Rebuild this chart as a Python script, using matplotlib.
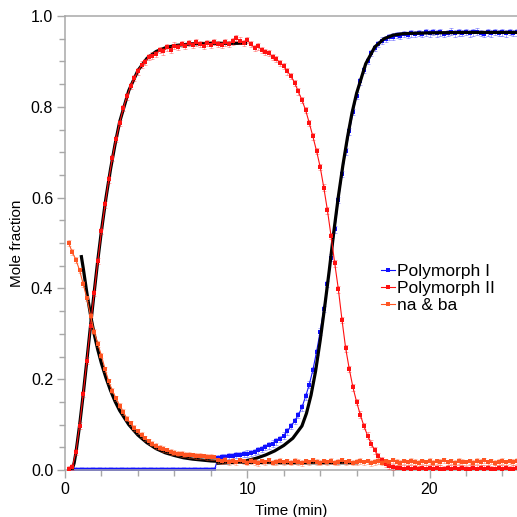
import numpy as np
import matplotlib
matplotlib.use("Agg")
import matplotlib.pyplot as plt

# sampling clock of the measurement (min)
time = np.round(np.arange(1, 125) * 0.2, 1)

poly2 = [0.002, 0.006, 0.040, 0.098, 0.168, 0.241, 0.318, 0.390, 0.461, 0.526,
         0.585, 0.640, 0.688, 0.729, 0.765, 0.797, 0.823, 0.846, 0.864, 0.878,
         0.893, 0.899, 0.910, 0.913, 0.917, 0.925, 0.922, 0.931, 0.926, 0.935,
         0.932, 0.938, 0.934, 0.940, 0.936, 0.942, 0.938, 0.935, 0.941, 0.937,
         0.943, 0.939, 0.936, 0.942, 0.938, 0.944, 0.951, 0.946, 0.941, 0.947,
         0.938, 0.930, 0.933, 0.925, 0.921, 0.918, 0.910, 0.905, 0.897, 0.890,
         0.878, 0.868, 0.853, 0.834, 0.815, 0.793, 0.765, 0.735, 0.703, 0.668,
         0.622, 0.572, 0.515, 0.455, 0.398, 0.330, 0.268, 0.222, 0.182, 0.150,
         0.122, 0.097, 0.076, 0.058, 0.043, 0.031, 0.021, 0.014, 0.009, 0.007,
         0.005, 0.004, 0.003, 0.005, 0.003, 0.004, 0.002, 0.004, 0.003, 0.005,
         0.003, 0.004, 0.003, 0.002, 0.004, 0.003, 0.005, 0.003, 0.004, 0.002,
         0.003, 0.004, 0.003, 0.005, 0.003, 0.004, 0.002, 0.003, 0.004, 0.003,
         0.004, 0.002, 0.003, 0.004]

poly1 = [np.nan, 0, 0, 0, 0, 0, 0, 0, 0, 0,
         0, 0, 0, 0, 0, 0, 0, 0, 0, 0,
         0, 0, 0, 0, 0, 0, 0, 0, 0, 0,
         0, 0, 0, 0, 0, 0, 0, 0, 0, 0,
         0, 0.027, 0.029, 0.028, 0.031, 0.030, 0.033, 0.032, 0.035, 0.036,
         0.038, 0.040, 0.043, 0.046, 0.050, 0.054, 0.058, 0.063, 0.069, 0.076,
         0.085, 0.097, 0.108, 0.121, 0.138, 0.162, 0.188, 0.220, 0.260, 0.305,
         0.355, 0.410, 0.468, 0.530, 0.595, 0.652, 0.702, 0.746, 0.788, 0.825,
         0.856, 0.881, 0.901, 0.918, 0.930, 0.939, 0.946, 0.950, 0.954, 0.955,
         0.958, 0.957, 0.961, 0.959, 0.962, 0.960, 0.963, 0.961, 0.964, 0.962,
         0.965, 0.962, 0.964, 0.961, 0.963, 0.966, 0.962, 0.964, 0.963, 0.965,
         0.962, 0.964, 0.966, 0.963, 0.961, 0.964, 0.962, 0.965, 0.963, 0.964,
         0.962, 0.965, 0.963, 0.964]

naba = [0.500, 0.480, 0.463, 0.440, 0.410, 0.378, 0.340, 0.305, 0.278, 0.252,
        0.222, 0.195, 0.175, 0.158, 0.142, 0.128, 0.113, 0.103, 0.093, 0.085,
        0.077, 0.070, 0.063, 0.058, 0.053, 0.049, 0.046, 0.043, 0.040, 0.038,
        0.036, 0.035, 0.034, 0.033, 0.032, 0.031, 0.031, 0.030, 0.029, 0.029,
        0.028, 0.021, 0.019, 0.022, 0.018, 0.020, 0.017, 0.021, 0.019, 0.016,
        0.020, 0.018, 0.015, 0.019, 0.017, 0.021, 0.016, 0.018, 0.020, 0.017,
        0.019, 0.016, 0.020, 0.018, 0.015, 0.019, 0.017, 0.021, 0.018, 0.016,
        0.019, 0.017, 0.020, 0.016, 0.018, 0.021, 0.017, 0.019, 0.016, 0.018,
        0.020, 0.017, 0.019, 0.015, 0.018, 0.020, 0.016, 0.019, 0.017, 0.021,
        0.018, 0.016, 0.019, 0.017, 0.020, 0.018, 0.015, 0.019, 0.017, 0.020,
        0.016, 0.019, 0.018, 0.021, 0.017, 0.019, 0.016, 0.020, 0.018, 0.017,
        0.019, 0.016, 0.020, 0.018, 0.021, 0.017, 0.019, 0.016, 0.018, 0.020,
        0.017, 0.019, 0.018, 0.020]

# fitted curves (black)
fit2_t = [0.38, 0.5, 0.6, 0.8, 1.0, 1.2, 1.4, 1.6, 1.8, 2.0, 2.25, 2.5, 2.75,
          3.0, 3.5, 4.0, 4.5, 5.0, 5.5, 6.0, 7.0, 8.0, 9.9]
fit2_y = [0.0, 0.015, 0.038, 0.098, 0.167, 0.241, 0.317, 0.391, 0.462, 0.527,
          0.600, 0.663, 0.718, 0.767, 0.836, 0.880, 0.907, 0.922, 0.930, 0.935,
          0.939, 0.940, 0.940]

fit1_t = [8.4, 9.0, 9.5, 10.0, 10.5, 11.0, 11.5, 12.0, 12.5, 13.0, 13.25, 13.5,
          13.75, 14.0, 14.25, 14.5, 14.75, 15.0, 15.25, 15.5, 15.75, 16.0, 16.5,
          17.0, 17.5, 18.0, 18.5, 19.0, 20.0, 22.0, 24.8]
fit1_y = [0.015, 0.016, 0.018, 0.021, 0.026, 0.033, 0.042, 0.054, 0.070, 0.097,
          0.125, 0.165, 0.218, 0.285, 0.360, 0.440, 0.525, 0.603, 0.672, 0.733,
          0.787, 0.830, 0.895, 0.932, 0.950, 0.958, 0.961, 0.962, 0.963, 0.964,
          0.964]

fitn_t = [0.9, 1.0, 1.2, 1.43, 1.6, 1.8, 2.0, 2.25, 2.5, 2.75, 3.0, 3.5, 4.0,
          4.5, 5.0, 5.5, 6.0, 6.5, 7.0, 8.0, 9.0, 10.0, 12.0, 14.0, 16.0]
fitn_y = [0.470, 0.445, 0.390, 0.335, 0.300, 0.265, 0.235, 0.203, 0.175, 0.151,
          0.131, 0.100, 0.077, 0.060, 0.047, 0.038, 0.032, 0.027, 0.024, 0.020,
          0.018, 0.017, 0.016, 0.016, 0.016]

c_blue = "#1010ff"
c_red = "#ff1010"
c_orange = "#ff5522"

plt.rcParams["font.family"] = ["Liberation Sans", "DejaVu Sans"]

fig = plt.figure(figsize=(5.17, 5.17), dpi=100)
ax = fig.add_axes([0.1257, 0.0909, 0.8743, 0.878])


def draw(y, color, label, z, err):
    ax.errorbar(time, y, yerr=err, fmt="none", ecolor=color, elinewidth=0.6,
                capsize=1.3, capthick=0.6, alpha=0.4, zorder=z)
    ax.plot(time, y, "-s", color=color, lw=0.8, ms=2.4, mew=0, label=label,
            zorder=z)


draw(poly1, c_blue, "Polymorph I", 2, 0.007)
ax.plot(fit1_t, fit1_y, color="black", lw=2.3, zorder=3)
ax.plot(fit2_t, fit2_y, color="black", lw=2.3, zorder=3)
ax.plot(fitn_t, fitn_y, color="black", lw=2.3, zorder=3)
draw(poly2, c_red, "Polymorph II", 4, 0.007)
draw(naba, c_orange, "na & ba", 4, 0.006)

ax.set_xlim(0, 24.8)
ax.set_ylim(0, 1.0)
ax.set_xticks([0, 10, 20])
ax.set_xticks(np.arange(0, 25, 2), minor=True)
ax.set_yticks([0, 0.2, 0.4, 0.6, 0.8, 1.0])
ax.set_yticks(np.arange(0, 1.01, 0.05), minor=True)
ax.yaxis.set_major_formatter(plt.FormatStrFormatter("%.1f"))

for s in ["left", "top", "bottom"]:
    ax.spines[s].set_color("#a8a8a8")
    ax.spines[s].set_linewidth(1.1)
ax.spines["right"].set_visible(False)
ax.tick_params(which="major", length=6, width=1, color="#a8a8a8",
               labelsize=11.5, pad=2.5)
ax.tick_params(which="minor", length=4, width=1, color="#a8a8a8")

ax.set_xlabel("Time (min)", fontsize=11, labelpad=5)
ax.set_ylabel("Mole fraction", fontsize=11, labelpad=5)

h, l = ax.get_legend_handles_labels()
ax.legend(h, l, loc="upper left", bbox_to_anchor=(0.699, 0.454), frameon=False,
          fontsize=12.5, handlelength=0.8, handletextpad=0.1, labelspacing=0.1,
          borderpad=0, borderaxespad=0)

fig.savefig("out.png", dpi=100)
